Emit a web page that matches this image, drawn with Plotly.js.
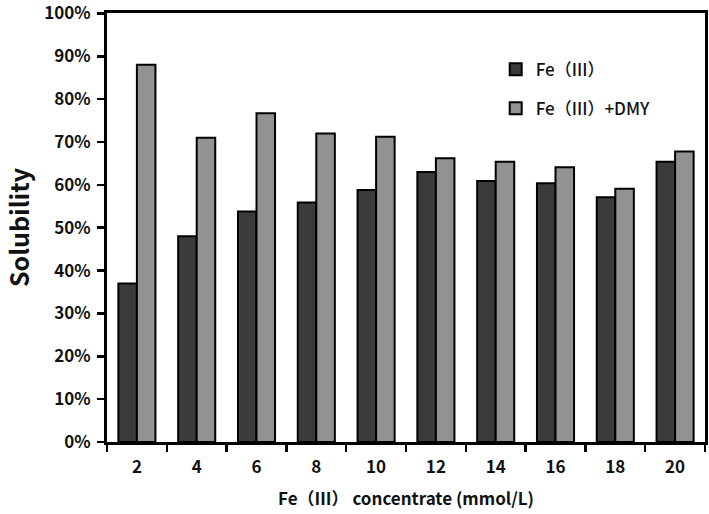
<!DOCTYPE html>
<html>
<head>
<meta charset="utf-8">
<script src="https://cdn.plot.ly/plotly-3.0.1.min.js"></script>
<style>
  html, body { margin: 0; padding: 0; background: #fff; }
  #chart { width: 709px; height: 514px; }
</style>
</head>
<body>
<div id="chart"></div>
<script>
// concentracoes (mmol/L) e solubilidade
const concentracoes = ['2', '4', '6', '8', '10', '12', '14', '16', '18', '20'];
const feIII = [0.37, 0.48, 0.538, 0.559, 0.588, 0.630, 0.609, 0.604, 0.571, 0.654];
const feIIIDmy = [0.88, 0.71, 0.767, 0.720, 0.712, 0.662, 0.654, 0.641, 0.591, 0.678];

const fonte = 'Noto Sans CJK SC, Noto Sans, sans-serif';

const traces = [
  {
    type: 'bar',
    name: 'Fe（III）',
    x: concentracoes,
    y: feIII,
    legendgroup: 'a',
    marker: { color: '#3b3b3b', line: { color: '#000', width: 2 } }
  },
  {
    type: 'bar',
    name: 'Fe（III）+DMY',
    x: concentracoes,
    y: feIIIDmy,
    legendgroup: 'b',
    marker: { color: '#929292', line: { color: '#000', width: 2 } }
  }
];

const layout = {
  width: 709,
  height: 514,
  margin: { l: 107, r: 4, t: 13, b: 72 },
  paper_bgcolor: '#fff',
  plot_bgcolor: '#fff',
  barmode: 'group',
  bargap: 0.38,
  bargroupgap: 0,
  showlegend: true,
  font: { family: fonte, color: '#111', size: 15 },
  legend: {
    x: 0.65, y: 0.91, xanchor: 'left', yanchor: 'top',
    bgcolor: 'rgba(0,0,0,0)',
    font: { size: 17, family: fonte, weight: 500 },
    traceorder: 'grouped',
    tracegroupgap: 14
  },
  xaxis: {
    type: 'category',
    showline: true, linecolor: '#000', linewidth: 3,
    mirror: true,
    ticks: 'outside', tickson: 'boundaries', ticklen: 7, tickwidth: 2.5, tickcolor: '#000',
    ticklabelstandoff: 8,
    tickfont: { size: 17, family: fonte, weight: 600 },
    showgrid: false,
    title: {
      text: 'Fe（Ⅲ） concentrate (mmol/L)',
      font: { size: 17, family: fonte, weight: 'bold' },
      standoff: 16
    }
  },
  yaxis: {
    range: [0, 1.001],
    dtick: 0.1,
    tickformat: '.0%',
    showline: true, linecolor: '#000', linewidth: 3,
    mirror: true,
    ticks: 'outside', ticklen: 7, tickwidth: 2.5, tickcolor: '#000',
    ticklabelstandoff: 3,
    ticklabeloverflow: 'allow',
    tickfont: { size: 17, family: fonte, weight: 600 },
    showgrid: false,
    zeroline: false,
    title: {
      text: 'Solubility',
      font: { size: 25, family: fonte, weight: 'bold' },
      standoff: 20
    }
  }
};

Plotly.newPlot('chart', traces, layout, { displayModeBar: false, staticPlot: true });
</script>
</body>
</html>
